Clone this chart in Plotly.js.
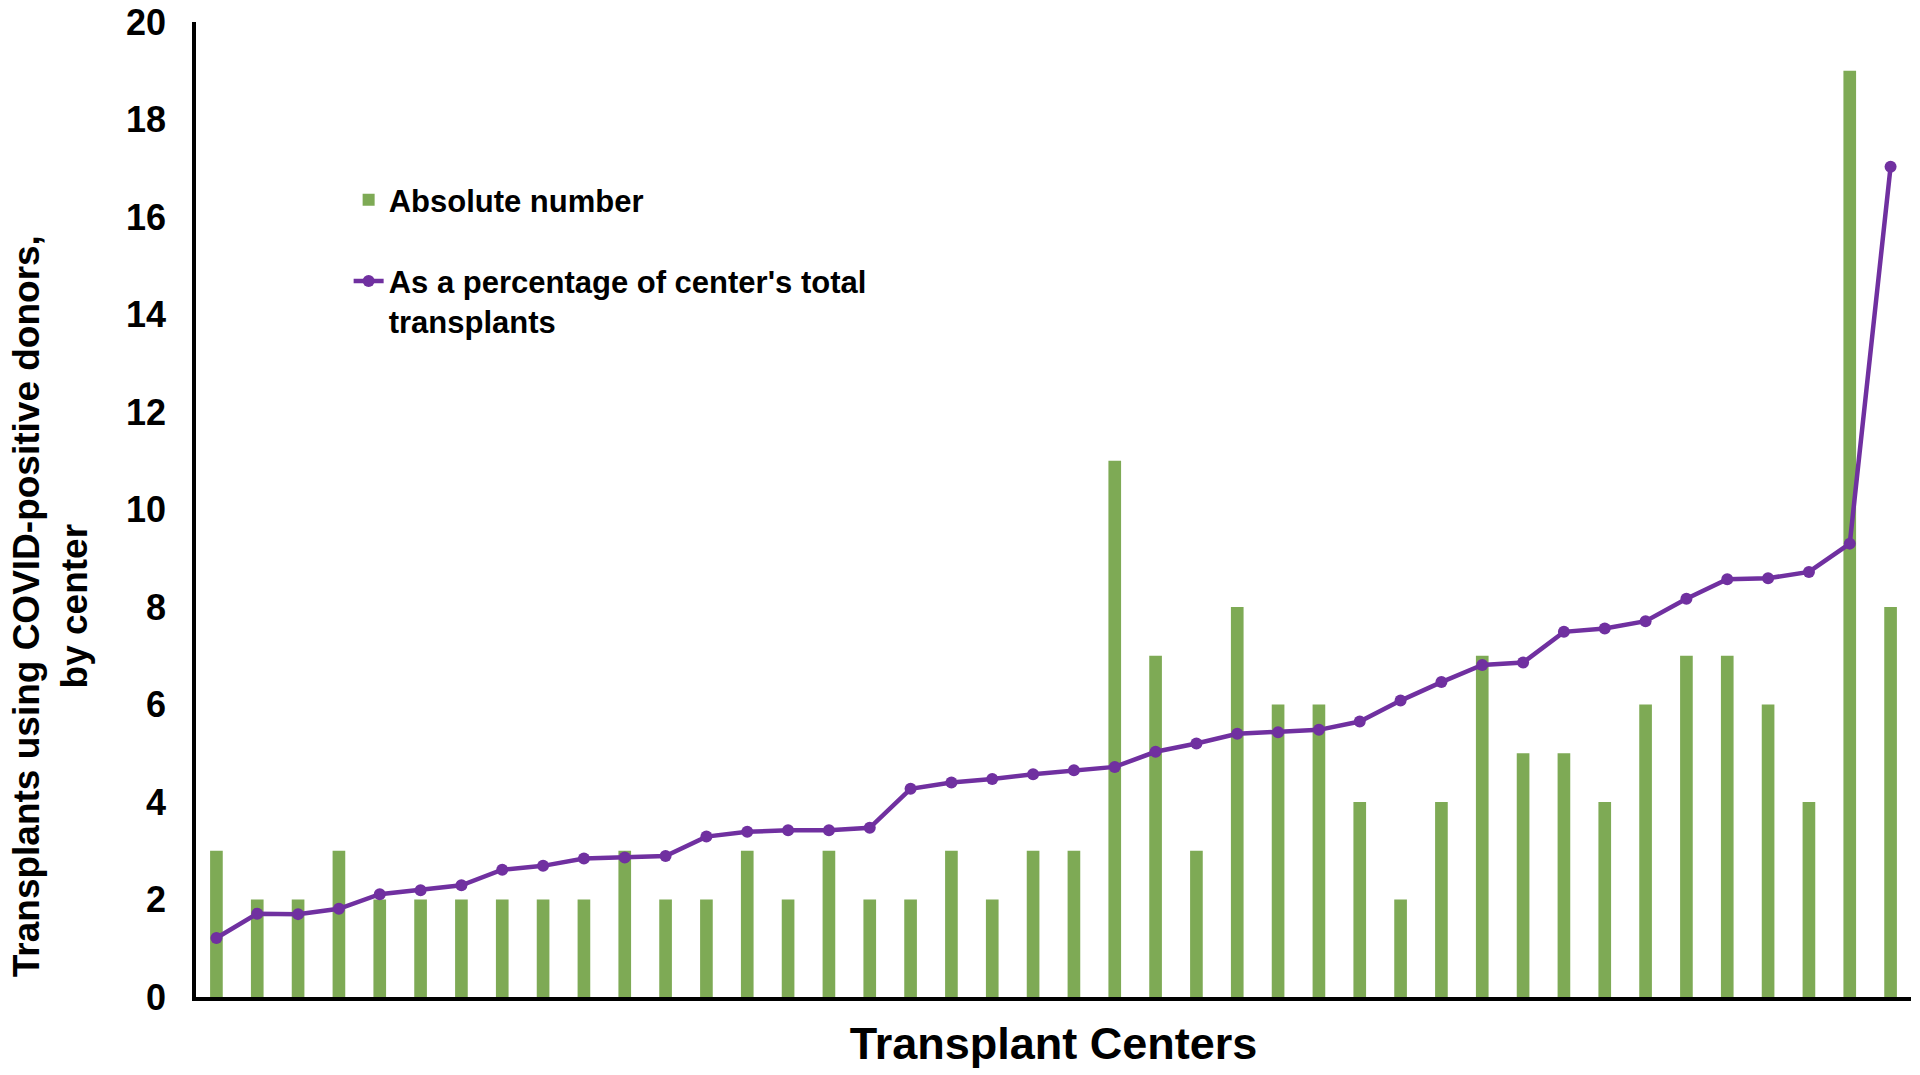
<!DOCTYPE html>
<html>
<head>
<meta charset="utf-8">
<script src="https://cdn.plot.ly/plotly-3.0.1.min.js"></script>
<style>html,body{margin:0;padding:0;background:#fff;}#chart{width:1920px;height:1075px;}</style>
</head>
<body>
<div id="chart"></div>
<script>
const centers = ["C1","C2","C3","C4","C5","C6","C7","C8","C9","C10","C11","C12","C13","C14","C15","C16","C17","C18","C19","C20","C21","C22","C23","C24","C25","C26","C27","C28","C29","C30","C31","C32","C33","C34","C35","C36","C37","C38","C39","C40","C41","C42"];
const absoluteNumber = [3,2,2,3,2,2,2,2,2,2,3,2,2,3,2,3,2,2,3,2,3,3,11,7,3,8,6,6,4,2,4,7,5,5,4,6,7,7,6,4,19,8];
const percentOfTotal = [1.21,1.71,1.70,1.81,2.11,2.19,2.29,2.61,2.69,2.84,2.86,2.89,3.29,3.39,3.42,3.42,3.47,4.27,4.40,4.47,4.57,4.65,4.72,5.03,5.20,5.40,5.43,5.48,5.65,6.08,6.46,6.81,6.86,7.49,7.56,7.71,8.17,8.57,8.59,8.72,9.30,17.03];
const yTicks = [0,2,4,6,8,10,12,14,16,18,20];

const FONT = "Liberation Sans, Arial, sans-serif";
const green = "#7EAA55";
const purple = "#7030A0";

const traces = [
  {
    type: "bar",
    name: "Absolute number",
    x: centers,
    y: absoluteNumber,
    width: 0.31,
    marker: {color: green},
    legendgroup: "a"
  },
  {
    type: "scatter",
    mode: "lines+markers",
    name: "As a percentage of center's total<br>transplants",
    x: centers,
    y: percentOfTotal,
    line: {color: purple, width: 4.5},
    marker: {color: purple, size: 12},
    legendgroup: "b"
  }
];

const layout = {
  width: 1920,
  height: 1075,
  margin: {l: 196, r: 9, t: 22, b: 78},
  paper_bgcolor: "#ffffff",
  plot_bgcolor: "#ffffff",
  font: {family: FONT, color: "#000000"},
  showlegend: true,
  legend: {
    x: 0.089, y: 0.845, xanchor: "left", yanchor: "top",
    font: {family: FONT, size: 31, weight: 700, color: "#000"},
    bgcolor: "rgba(0,0,0,0)",
    traceorder: "grouped",
    tracegroupgap: 38,
    valign: "top"
  },
  xaxis: {
    type: "category",
    range: [-0.5, 41.5],
    showticklabels: false,
    ticks: "",
    showgrid: false,
    zeroline: false,
    showline: true,
    linecolor: "#000",
    linewidth: 3.5,
    title: {text: "Transplant Centers", font: {family: FONT, size: 45, weight: 700, color: "#000"}, standoff: 29}
  },
  yaxis: {
    range: [0, 20],
    tickvals: yTicks,
    ticktext: yTicks.map(String),
    ticks: "",
    showgrid: false,
    zeroline: false,
    showline: true,
    linecolor: "#000",
    linewidth: 3.5,
    ticklabelstandoff: 19,
    tickfont: {family: FONT, size: 36, weight: 700, color: "#000"}
  },
  annotations: [
    {
      xref: "paper", yref: "paper",
      x: -0.085, y: 0.401,
      xanchor: "center", yanchor: "middle",
      textangle: -90,
      showarrow: false,
      text: "Transplants using COVID-positive donors,<br>by center",
      font: {family: FONT, size: 37, weight: 700, color: "#000"}
    }
  ]
};

Plotly.newPlot("chart", traces, layout, {displayModeBar: false, responsive: false});
</script>
</body>
</html>
